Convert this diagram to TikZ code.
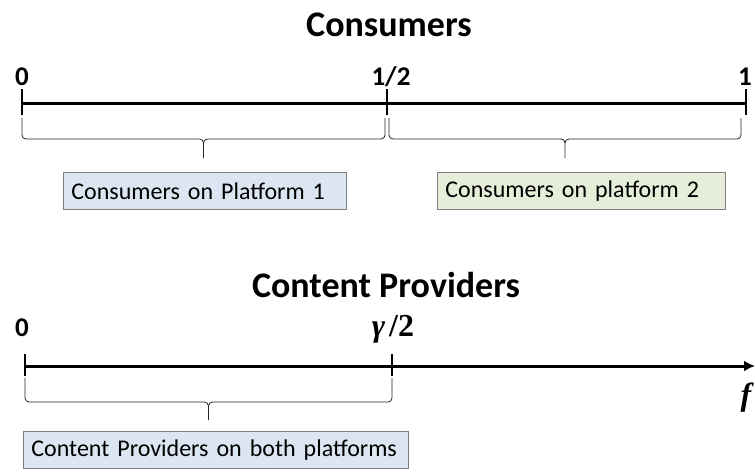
\documentclass[tikz,border=0pt]{standalone}
\usepackage{fontspec}
\setmainfont{Carlito}
\newfontfamily\symbolserif{Liberation Serif}
\usetikzlibrary{arrows.meta}

\definecolor{boxblue}{HTML}{DCE6F2}
\definecolor{boxgreen}{HTML}{E6EED9}
\definecolor{boxedge}{HTML}{7F7F7F}

% downward curly brace between two x positions
\newcommand{\underbracepath}[5]{% x1, x2, ytop, yflat, ytip
  \pgfmathsetmacro{\xmid}{(#1+#2)/2}
  \draw[bracestyle] (#1,#3) -- (#1,#4-4) to[out=-90,in=180] (#1+4,#4)
    -- (\xmid-4,#4) to[out=0,in=90] (\xmid,#4+4) -- (\xmid,#5);
  \draw[bracestyle] (#2,#3) -- (#2,#4-4) to[out=-90,in=0] (#2-4,#4)
    -- (\xmid+4,#4) to[out=180,in=90] (\xmid,#4+4);
}

\tikzset{
  axisline/.style={line width=3pt, black},
  tick/.style={line width=1.6pt, black},
  bracestyle/.style={line width=0.8pt, black!85},
  title/.style={font=\fontsize{36}{40}\selectfont\bfseries, anchor=base},
  ticklabel/.style={font=\fontsize{27}{30}\selectfont\bfseries, anchor=base},
  varlabel/.style={font=\fontsize{32}{34}\selectfont\symbolserif\bfseries, anchor=base},
  groupbox/.style={draw=boxedge, line width=0.8pt, anchor=north west,
    font=\fontsize{24}{28}\selectfont, align=left, inner xsep=8pt,
    minimum height=37pt},
}

\begin{document}
\begin{tikzpicture}[x=1pt, y=-1pt]
  \useasboundingbox (0,0) rectangle (755,472);

  % ---------- Consumers ----------
  \node[title] (ttop) at (389,36) {Consumers};

  \coordinate (a0) at (22,103);
  \coordinate (ah) at (387,103);
  \coordinate (a1) at (746,103);
  \draw[axisline] (a0) -- (a1);
  \draw[tick] ([yshift=-12pt]a0) -- ([yshift=14pt]a0);
  \draw[tick] ([yshift=-12pt]ah) -- ([yshift=14pt]ah);
  \draw[tick] ([yshift=-12pt]a1) -- ([yshift=14pt]a1);

  \node[ticklabel] (l0) at (22,85) {0};
  \node[ticklabel] (lh) at (391,85) {1/2};
  \node[ticklabel] (l1) at (745,85) {1};

  \underbracepath{22}{385}{118}{139}{158}
  \underbracepath{389}{741}{118}{139}{158}

  \node[groupbox, fill=boxblue, text width=267pt] (p1) at (63,172)
    {Consumers on Platform 1};
  \node[groupbox, fill=boxgreen, text width=272pt] (p2) at (437,172)
    {Consumers on platform 2};

  % ---------- Content Providers ----------
  \node[title] (tbot) at (386,297) {Content Providers};

  \coordinate (b0) at (25,366);
  \coordinate (bg) at (392,366);
  \coordinate (bend) at (755,366);
  \draw[axisline, -{Latex[length=11pt,width=11pt]}] (b0) -- (bend);
  \draw[tick] ([yshift=-10pt]b0) -- ([yshift=12pt]b0);
  \draw[tick] ([yshift=-10pt]bg) -- ([yshift=12pt]bg);

  \node[ticklabel] (m0) at (22,336) {0};
  \node[varlabel] (mg) at (393,336) {{\itshape γ\kern4pt}/2};
  \node[varlabel] (mf) at (746,405) {\itshape f};

  \underbracepath{25}{392}{378}{402}{420}

  \node[groupbox, fill=boxblue, text width=369pt] (p3) at (23,431)
    {Content Providers on both platforms};
\end{tikzpicture}
\end{document}
